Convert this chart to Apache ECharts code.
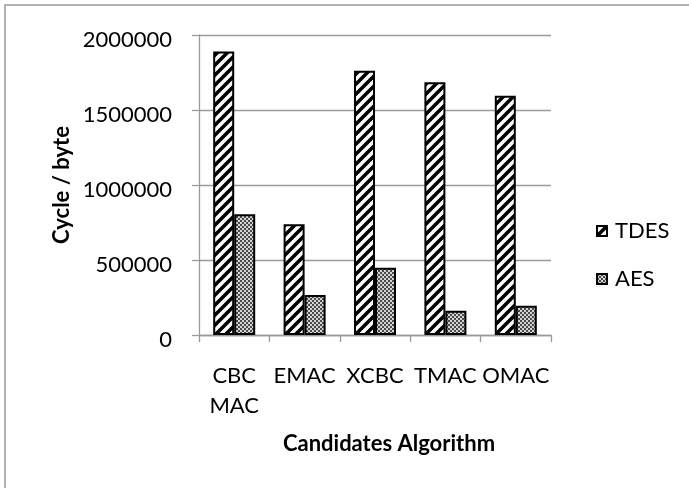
<!DOCTYPE html>
<html>
<head>
<meta charset="utf-8">
<script src="https://cdn.jsdelivr.net/npm/echarts@6/dist/echarts.min.js"></script>
<style>
  html, body { margin: 0; padding: 0; background: #fff; }
  #chart { width: 689px; height: 488px; }
</style>
</head>
<body>
<div id="chart"></div>
<script>
// Cycles per byte for each MAC candidate, TDES vs AES
const categories = ['CBC\nMAC', 'EMAC', 'XCBC', 'TMAC', 'OMAC'];
const tdesValues = [1890000, 738000, 1762000, 1685000, 1595000];
const aesValues = [805000, 267000, 449000, 162000, 195000];
const yTicks = [0, 500000, 1000000, 1500000, 2000000];

// Hatched fill: wide upward diagonal stripes
function stripePattern() {
  const s = 10;
  const c = document.createElement('canvas');
  c.width = s; c.height = s;
  const g = c.getContext('2d');
  g.fillStyle = '#fff';
  g.fillRect(0, 0, s, s);
  g.strokeStyle = '#000';
  g.lineWidth = 3.6;
  g.beginPath();
  for (let k = -1; k <= 1; k++) {
    g.moveTo(k * s - 1, s + 1);
    g.lineTo(k * s + s + 1, -1);
  }
  g.stroke();
  return c;
}

// Fine checkered grey fill
function checkerPattern() {
  const c = document.createElement('canvas');
  c.width = 4; c.height = 4;
  const g = c.getContext('2d');
  g.fillStyle = '#d4d4d4';
  g.fillRect(0, 0, 4, 4);
  g.fillStyle = '#4a4a4a';
  g.fillRect(0, 0, 2, 2);
  g.fillRect(2, 2, 2, 2);
  return c;
}

const font = 'Lato, "Open Sans", sans-serif';
const chart = echarts.init(document.getElementById('chart'), null, { renderer: 'canvas' });

chart.setOption({
  backgroundColor: '#fff',
  animation: false,
  textStyle: { fontFamily: font, color: '#000' },
  graphic: [
    {
      type: 'rect',
      shape: { x: 5, y: 5, width: 720, height: 520 },
      style: { fill: 'none', stroke: '#9a9a9a', lineWidth: 1.5 },
      silent: true
    },
    {
      // vertical axis title
      type: 'text',
      x: 62,
      y: 185,
      rotation: Math.PI / 2,
      style: {
        text: 'Cycle / byte',
        font: 'bold 22px ' + font,
        fill: '#000',
        align: 'center',
        verticalAlign: 'middle'
      },
      silent: true
    }
  ],
  grid: { left: 199, right: 138, top: 35, bottom: 153 },
  legend: {
    orient: 'vertical',
    left: 591,
    top: 215,
    itemWidth: 10,
    itemHeight: 10,
    itemGap: 26,
    icon: 'rect',
    textStyle: { fontFamily: font, fontSize: 22, color: '#000', padding: [0, 0, 0, 3] },
    data: ['TDES', 'AES']
  },
  xAxis: {
    type: 'category',
    data: categories,
    name: 'Candidates Algorithm',
    nameLocation: 'middle',
    nameGap: 98,
    nameMoveOverlap: false,
    nameTextStyle: {
      fontFamily: font, fontSize: 22, fontWeight: 'bold', color: '#000',
      padding: [0, 0, 0, 28]
    },
    axisLine: { lineStyle: { color: '#9a9a9a', width: 1.3 } },
    axisTick: { show: true, length: 7, lineStyle: { color: '#9a9a9a', width: 1.3 } },
    axisLabel: {
      fontFamily: font, fontSize: 22, color: '#000',
      margin: 26, lineHeight: 30, interval: 0
    }
  },
  yAxis: {
    type: 'value',
    min: yTicks[0],
    max: yTicks[yTicks.length - 1],
    interval: yTicks[1] - yTicks[0],
    axisLine: { show: true, lineStyle: { color: '#9a9a9a', width: 1.3 } },
    axisTick: { show: true, length: 7, lineStyle: { color: '#9a9a9a', width: 1.3 } },
    splitLine: { show: true, lineStyle: { color: '#9a9a9a', width: 1.3 } },
    axisLabel: {
      fontFamily: font, fontSize: 22, color: '#000',
      margin: 27, verticalAlign: 'top', lineHeight: 9,
      formatter: function (v) { return String(v); }
    }
  },
  series: [
    {
      name: 'TDES',
      type: 'bar',
      data: tdesValues,
      barWidth: 21,
      barGap: '0%',
      itemStyle: {
        color: { image: stripePattern(), repeat: 'repeat' },
        borderColor: '#000',
        borderWidth: 2
      }
    },
    {
      name: 'AES',
      type: 'bar',
      data: aesValues,
      barWidth: 21,
      itemStyle: {
        color: { image: checkerPattern(), repeat: 'repeat' },
        borderColor: '#000',
        borderWidth: 2
      }
    }
  ]
});
</script>
</body>
</html>
